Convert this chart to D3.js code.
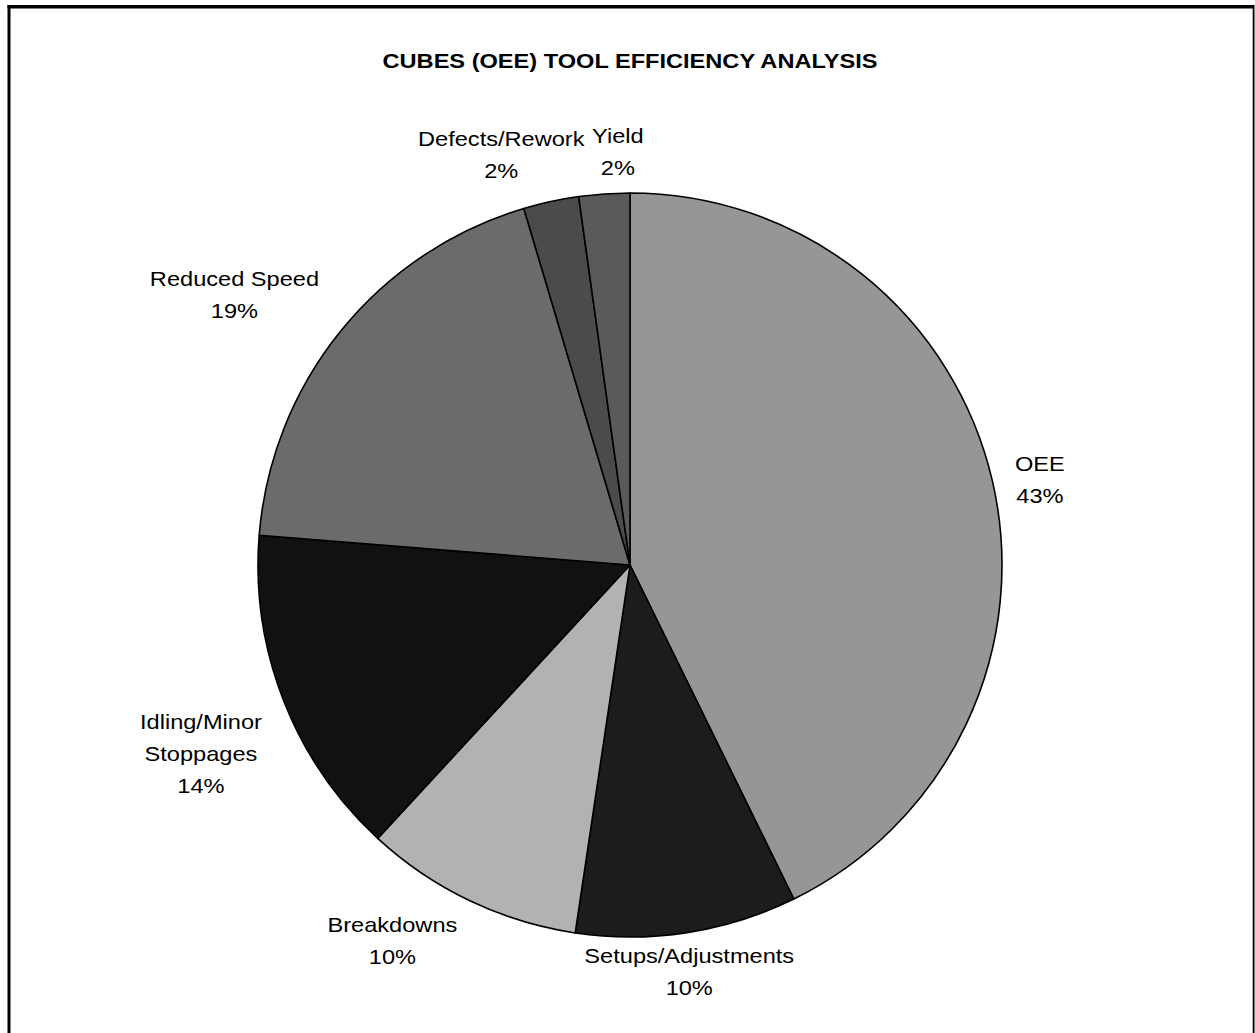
<!DOCTYPE html>
<html>
<head>
<meta charset="utf-8">
<script src="https://cdn.jsdelivr.net/npm/d3@7"></script>
<style>
  body { margin: 0; background: #fff; }
  text { font-family: "Liberation Sans", Arial, sans-serif; fill: #000; }
</style>
</head>
<body>
<svg id="chart" width="1255" height="1033"></svg>
<script>
// Share of total tool time by category (percent)
const categories = ["OEE", "Setups/Adjustments", "Breakdowns", "Idling/Minor Stoppages", "Reduced Speed", "Defects/Rework", "Yield"];
const labelLines = [["OEE"], ["Setups/Adjustments"], ["Breakdowns"], ["Idling/Minor", "Stoppages"], ["Reduced Speed"], ["Defects/Rework"], ["Yield"]];
const values = [42.7, 9.6, 9.5, 14.4, 19.1, 2.4, 2.2];
const fills = ["#969696", "#1c1c1c", "#b2b2b2", "#111111", "#6b6b6b", "#4b4b4b", "#5a5a5a"];
const chartTitle = "CUBES (OEE) TOOL EFFICIENCY ANALYSIS";

// Layout
const W = 1255, H = 1033;
const cx = 630, cy = 565, radius = 372;
const labelGap = 10;
const fontSize = 20, lineStep = 32, capHeight = 14.5, textStretch = 1.18;
// small per-label shifts so the labels clear each other and the pie
const labelNudge = [[13.5, 6], [-15.5, 6], [-44.6, 10], [-16.5, 35], [-33, -15], [-30, -14], [16, -9]];

const svg = d3.select("#chart");

// chart frame
svg.append("line").attr("x1", 9).attr("x2", 9).attr("y1", 5).attr("y2", H + 5)
  .attr("stroke", "#000").attr("stroke-width", 3);
svg.append("line").attr("x1", 7.5).attr("x2", 1254).attr("y1", 6.7).attr("y2", 6.7)
  .attr("stroke", "#000").attr("stroke-width", 3.4);
svg.append("line").attr("x1", 1253.6).attr("x2", 1253.6).attr("y1", 5).attr("y2", H + 5)
  .attr("stroke", "#000").attr("stroke-width", 1.8);

// title
svg.append("g")
  .attr("transform", `translate(${cx},68) scale(${textStretch},1)`)
  .append("text")
  .attr("text-anchor", "middle")
  .attr("font-size", 20)
  .attr("font-weight", "bold")
  .text(chartTitle);

const total = d3.sum(values);
const pie = d3.pie().sort(null).value(d => d);
const arcs = pie(values);
const arcGen = d3.arc().innerRadius(0).outerRadius(radius);

const plot = svg.append("g").attr("transform", `translate(${cx},${cy})`);

plot.selectAll("path.slice")
  .data(arcs)
  .join("path")
  .attr("class", "slice")
  .attr("d", arcGen)
  .attr("fill", (d, i) => fills[i])
  .attr("stroke", "#000")
  .attr("stroke-width", 1.6)
  .attr("stroke-linejoin", "round");

// outside labels: category name(s) + rounded percentage
arcs.forEach((a, i) => {
  const mid = (a.startAngle + a.endAngle) / 2;
  const s = Math.sin(mid), c = Math.cos(mid);
  const lines = labelLines[i].concat([Math.round(a.value / total * 100) + "%"]);
  const h = (lines.length - 1) * lineStep + capHeight;

  const outer = plot.append("g");
  const inner = outer.append("g").attr("transform", `scale(${textStretch},1)`);
  const txt = inner.append("text").attr("text-anchor", "middle").attr("font-size", fontSize);
  lines.forEach((ln, k) => {
    txt.append("tspan").attr("x", 0).attr("y", -h / 2 + capHeight + k * lineStep).text(ln);
  });
  const w = txt.node().getBBox().width * textStretch;

  const px = (radius + labelGap) * s + s * w / 2 + labelNudge[i][0];
  const py = -(radius + labelGap) * c - c * h / 2 + labelNudge[i][1];
  outer.attr("transform", `translate(${px},${py})`);
});
</script>
</body>
</html>
